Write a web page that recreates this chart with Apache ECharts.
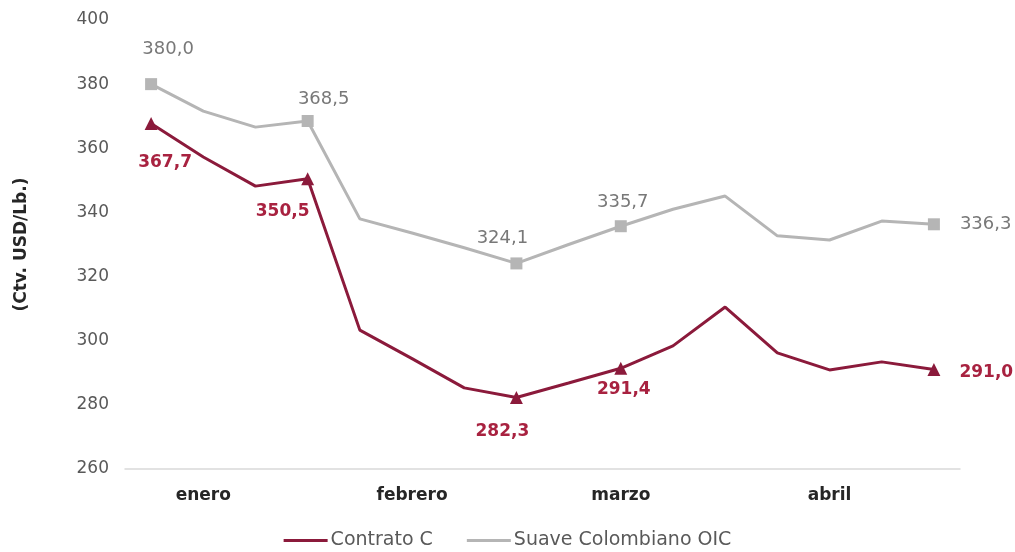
<!DOCTYPE html>
<html>
<head>
	<meta charset="utf-8">
	<title>Precios del café</title>
	<script src="https://cdn.jsdelivr.net/npm/echarts@6/dist/echarts.min.js"></script>
	<style>
		html, body { margin: 0; padding: 0; background: #fff; }
		#main { width: 1015px; height: 552px; }
	</style>
</head>
<body>
	<div id="main"></div>
	<script>
		// semanas (4 por mes), el nombre del mes va en la segunda semana
		var semanas = ['', 'enero', '', '', '', 'febrero', '', '', '', 'marzo', '', '', '', 'abril', '', ''];
		var contratoC = [367.7, 357.3, 348.2, 350.5, 303.3, 294.4, 285.3, 282.3, 286.8, 291.4, 298.4, 310.5, 296.2, 290.9, 293.4, 291.0];
		var suaveOIC = [380.0, 371.6, 366.6, 368.5, 338.0, 333.6, 329.0, 324.1, 330.0, 335.7, 341.0, 345.1, 332.7, 331.4, 337.3, 336.3];
		// puntos destacados (con marcador y etiqueta)
		var destacados = [0, 3, 7, 9, 15];

		var rojo = '#8b1a3b';
		var rojoTxt = '#a82240';
		var gris = '#b5b5b5';
		var grisTxt = '#787878';
		var fuente = 'DejaVu Sans';

		function coma(v) { return v.toFixed(1).replace('.', ','); }

		// posicion de las etiquetas por punto
		var posRojo = {
			0: { position: 'bottom', offset: [14, 19] },
			3: { position: 'bottom', offset: [-25, 13] },
			7: { position: 'bottom', offset: [-14, 14] },
			9: { position: 'bottom', offset: [3, 1] },
			15: { position: 'right', offset: [14, 3] }
		};
		var posGris = {
			0: { position: 'top', offset: [17, -15] },
			3: { position: 'top', offset: [16, -2] },
			7: { position: 'top', offset: [-14, -5] },
			9: { position: 'top', offset: [2, -4] },
			15: { position: 'right', offset: [15, 0] }
		};

		function puntos(valores, pos, color) {
			var rojoSerie = color === rojoTxt;
			return valores.map(function (v, i) {
				if (destacados.indexOf(i) < 0) {
					return { value: v, symbol: 'none', label: { show: false } };
				}
				return {
					value: v,
					label: {
						show: true,
						position: pos[i].position,
						offset: pos[i].offset,
						formatter: coma(v),
						color: color,
						fontSize: rojoSerie ? 17 : 18,
						fontWeight: rojoSerie ? 'bold' : 'normal',
						fontFamily: fuente
					}
				};
			});
		}

		var myChart = echarts.init(document.getElementById('main'));
		myChart.setOption({
			backgroundColor: '#ffffff',
			animation: false,
			grid: { left: 125, right: 55, top: 20, bottom: 83 },
			legend: {
				top: 526,
				left: 'center',
				itemWidth: 44,
				itemHeight: 3,
				itemGap: 34,
				textStyle: { fontSize: 19, color: '#595959', fontFamily: fuente, padding: [0, 0, 0, -2] },
				data: [
					{ name: 'Contrato C', icon: 'rect' },
					{ name: 'Suave Colombiano OIC', icon: 'rect' }
				]
			},
			xAxis: {
				type: 'category',
				data: semanas,
				boundaryGap: true,
				axisLine: { lineStyle: { color: '#d9d9d9', width: 1.5 } },
				axisTick: { show: false },
				axisLabel: {
					interval: 0,
					margin: 18,
					fontSize: 17,
					fontWeight: 'bold',
					color: '#262626',
					fontFamily: fuente
				}
			},
			yAxis: {
				type: 'value',
				min: 260,
				max: 400,
				interval: 20,
				name: '(Ctv. USD/Lb.)',
				nameLocation: 'middle',
				nameGap: 95,
				nameRotate: 90,
				nameTextStyle: { fontSize: 17, fontWeight: 'bold', color: '#262626', fontFamily: fuente },
				axisLine: { show: false },
				axisTick: { show: false },
				splitLine: { show: false },
				axisLabel: { fontSize: 17, color: '#595959', margin: 16, fontFamily: fuente }
			},
			series: [
				{
					name: 'Contrato C',
					type: 'line',
					data: puntos(contratoC, posRojo, rojoTxt),
					symbol: 'triangle',
					symbolSize: 13,
					showAllSymbol: true,
					lineStyle: { color: rojo, width: 3 },
					itemStyle: { color: rojo },
					z: 3
				},
				{
					name: 'Suave Colombiano OIC',
					type: 'line',
					data: puntos(suaveOIC, posGris, grisTxt),
					symbol: 'rect',
					symbolSize: 12,
					showAllSymbol: true,
					lineStyle: { color: gris, width: 3 },
					itemStyle: { color: gris },
					z: 2
				}
			]
		});
	</script>
</body>
</html>
